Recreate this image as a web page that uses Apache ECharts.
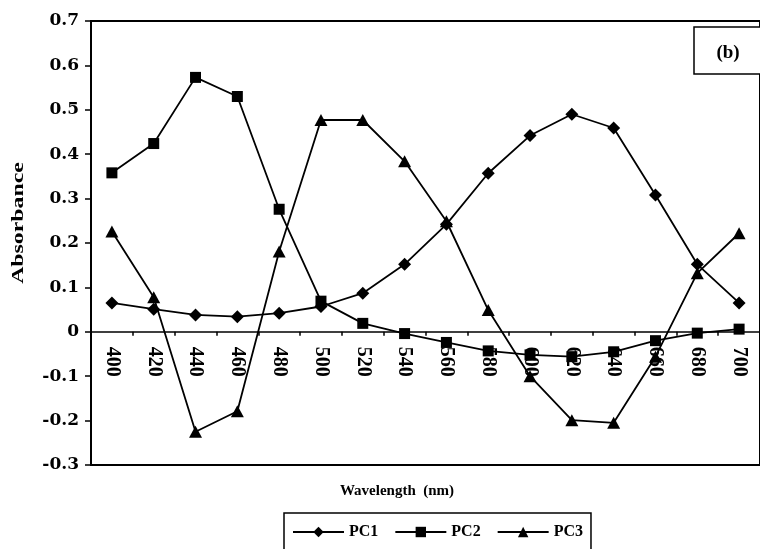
<!DOCTYPE html>
<html>
<head>
<meta charset="utf-8">
<script src="https://cdn.jsdelivr.net/npm/echarts@6/dist/echarts.min.js"></script>
<style>
  html, body { margin: 0; padding: 0; background: #fff; }
  #chart { width: 760px; height: 549px; }
</style>
</head>
<body>
<div id="chart"></div>
<script>
// Wavelength categories (nm)
const wavelengths = ['400', '420', '440', '460', '480', '500', '520', '540',
                     '560', '580', '600', '620', '640', '660', '680', '700'];

// Loadings of the three principal components
const pc1 = [0.065, 0.051, 0.038, 0.034, 0.042, 0.057, 0.087, 0.152,
             0.242, 0.357, 0.442, 0.490, 0.459, 0.308, 0.152, 0.065];
const pc2 = [0.358, 0.424, 0.573, 0.530, 0.276, 0.069, 0.019, -0.004,
             -0.024, -0.043, -0.052, -0.056, -0.045, -0.020, -0.003, 0.006];
const pc3 = [0.226, 0.078, -0.225, -0.179, 0.181, 0.477, 0.477, 0.384,
             0.249, 0.049, -0.100, -0.199, -0.205, -0.056, 0.132, 0.222];

// Absorbance axis range
const yMin = -0.3;
const yMax = 0.7;
const yStep = 0.1;

const gridTop = 21;
const gridHeight = 444;
// lift the category axis from the bottom edge up to the zero line
const zeroOffset = -(0 - yMin) / (yMax - yMin) * gridHeight;

const serif = '"Liberation Serif", "Times New Roman", serif';
const wideSerif = '"DejaVu Serif", serif';

function pcSeries(name, data, symbol, size) {
  return {
    name: name,
    type: 'line',
    data: data,
    symbol: symbol,
    symbolSize: size,
    showSymbol: true,
    lineStyle: { color: '#000', width: 1.8 },
    itemStyle: { color: '#000' },
    emphasis: { disabled: true }
  };
}

const chart = echarts.init(document.getElementById('chart'), null, { renderer: 'canvas' });

chart.setOption({
  animation: false,
  backgroundColor: '#fff',
  grid: {
    left: 91, top: gridTop, width: 677, height: gridHeight,
    show: true, borderColor: '#000', borderWidth: 2,
    backgroundColor: 'transparent'
  },
  xAxis: {
    type: 'category',
    data: wavelengths,
    boundaryGap: true,
    offset: zeroOffset,
    axisLine: { onZero: false, lineStyle: { color: '#000', width: 1.6 } },
    axisTick: { show: true, length: 4, lineStyle: { color: '#000', width: 1.5 } },
    axisLabel: {
      interval: 0, rotate: -90, margin: 15,
      color: '#000', fontFamily: serif, fontWeight: 'bold', fontSize: 20
    },
    splitLine: { show: false }
  },
  yAxis: {
    type: 'value',
    min: yMin, max: yMax, interval: yStep,
    axisLine: { show: true, lineStyle: { color: '#000', width: 2 } },
    axisTick: { show: true, length: 6, lineStyle: { color: '#000', width: 1.5 } },
    axisLabel: {
      margin: 12, color: '#000',
      fontFamily: wideSerif, fontWeight: 'bold', fontSize: 17,
      formatter: function (v) { return Math.abs(v) < 1e-9 ? '0' : v.toFixed(1); }
    },
    splitLine: { show: false }
  },
  legend: {
    data: ['PC1', 'PC2', 'PC3'],
    left: 284, top: 513,
    itemWidth: 51, itemHeight: 13, itemGap: 16,
    padding: [11, 8, 30, 8],
    borderColor: '#000', borderWidth: 1.5,
    backgroundColor: '#fff',
    selectedMode: false,
    textStyle: { fontFamily: serif, fontWeight: 'bold', fontSize: 16, color: '#000' }
  },
  series: [
    pcSeries('PC1', pc1, 'diamond', [13, 13]),
    pcSeries('PC2', pc2, 'rect', [11, 11]),
    pcSeries('PC3', pc3, 'triangle', [13, 12])
  ],
  graphic: [
    {
      type: 'rect', z: 100,
      shape: { x: 694, y: 27, width: 90, height: 47 },
      style: { fill: '#fff', stroke: '#000', lineWidth: 1.5 }
    },
    {
      type: 'text', z: 101, x: 728, y: 53,
      style: {
        text: '(b)', fill: '#000', align: 'center', verticalAlign: 'middle',
        font: 'bold 19px ' + serif
      }
    },
    {
      type: 'text', x: 19, y: 223, rotation: Math.PI / 2, scaleX: 1.4,
      style: {
        text: 'Absorbance', fill: '#000', align: 'center', verticalAlign: 'middle',
        font: 'bold 17px ' + serif
      }
    },
    {
      type: 'text', x: 397, y: 491,
      style: {
        text: 'Wavelength  (nm)', fill: '#000', align: 'center', verticalAlign: 'middle',
        font: 'bold 15px ' + serif
      }
    }
  ]
});
</script>
</body>
</html>
